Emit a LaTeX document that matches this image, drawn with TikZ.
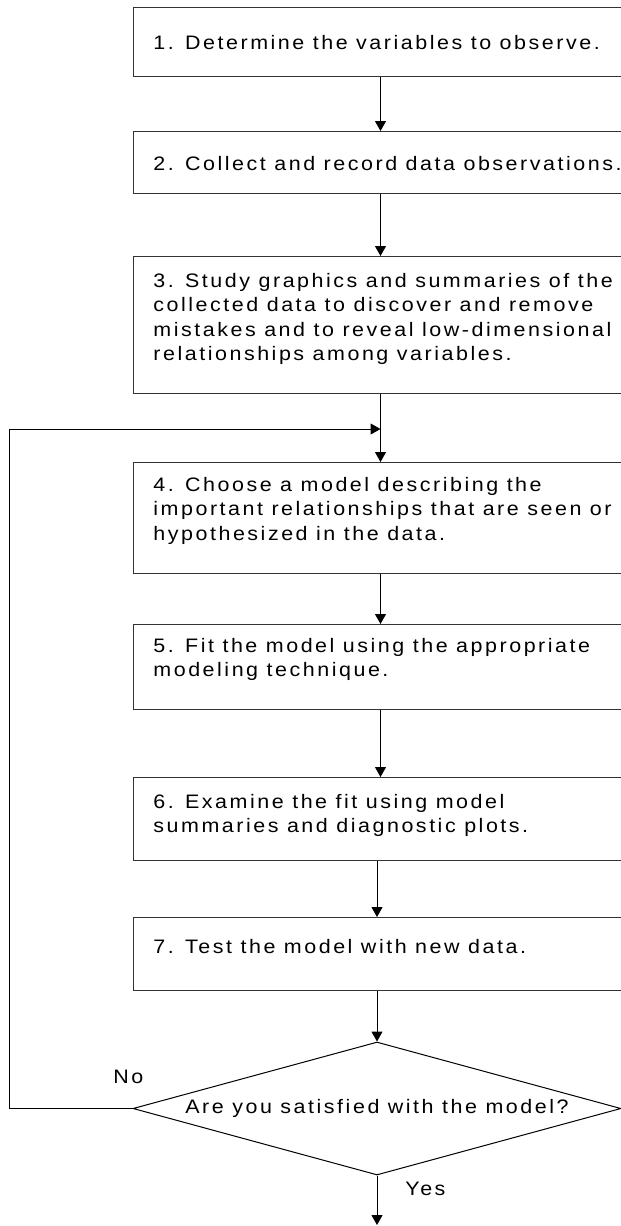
\documentclass[tikz,border=0pt]{standalone}
\usepackage{fontspec}
\setmainfont{Liberation Sans}[LetterSpace=13, FakeStretch=1.1]
\usepackage{tikz}
\usetikzlibrary{calc}
\usetikzlibrary{arrows.meta}
\usetikzlibrary{shapes.geometric}

\begin{document}
\begin{tikzpicture}[x=0.5pt, y=-0.5pt,
    font=\fontsize{9.75}{12.25}\selectfont,
    stepbox/.style={draw=black!80, line width=0.5pt, rectangle, inner sep=0pt, minimum width=247pt, anchor=north west},
    steptext/.style={anchor=base west, align=left, inner sep=0pt},
    arr/.style={-{Triangle[length=5pt,width=5.5pt]}, line width=0.5pt},
    decision/.style={draw, line width=0.5pt, diamond, aspect=3.67, minimum width=244pt, minimum height=66.5pt, inner sep=0pt}]
    \useasboundingbox (0,0) rectangle (621,1226);
    \clip (0,0) rectangle (621,1226);
    % the seven steps (text anchored at the base of its last line)
    \node[stepbox, minimum height=34.5pt] (b1) at (133,7) {};
    \node[steptext] (t1) at (153,49) {1. Determine the variables to observe.};
    \node[stepbox, minimum height=31pt] (b2) at (133,131) {};
    \node[steptext] (t2) at (153,170) {2. Collect and record data observations.};
    \node[stepbox, minimum height=68.5pt] (b3) at (133,256) {};
    \node[steptext] (t3) at (153,360.5) {3. Study graphics and summaries of the\\collected data to discover and remove\\mistakes and to reveal low-dimensional\\relationships among variables.};
    \node[stepbox, minimum height=55.5pt] (b4) at (133,462) {};
    \node[steptext] (t4) at (153,540) {4. Choose a model describing the\\important relationships that are seen or\\hypothesized in the data.};
    \node[stepbox, minimum height=42.5pt] (b5) at (133,624) {};
    \node[steptext] (t5) at (153,676.5) {5. Fit the model using the appropriate\\modeling technique.};
    \node[stepbox, minimum height=41.5pt] (b6) at (133,777) {};
    \node[steptext] (t6) at (153,832.5) {6. Examine the fit using model\\summaries and diagnostic plots.};
    \node[stepbox, minimum height=36.5pt] (b7) at (133,917) {};
    \node[steptext] (t7) at (153,953) {7. Test the model with new data.};
    % decision
    \node[decision] (d) at (377,1108.5) {Are you satisfied with the model?};
    \node[anchor=base west, inner sep=0pt] (no) at (113,1083) {No};
    \node[anchor=base west, inner sep=0pt] (yes) at (405,1195) {Yes};
    \coordinate (back) at (9,429);
    \coordinate (join) at (b3.south |- back);
    \coordinate (stop) at (377,1225);
    % connectors
    \draw[arr] (b1) -- (b2);
    \draw[arr] (b2) -- (b3);
    \draw[arr] (b3) -- (b4);
    \draw[arr] (b4) -- (b5);
    \draw[arr] (b5) -- (b6);
    \draw[arr] (b6.south -| d.north) -- (b7.north -| d.north);
    \draw[arr] (b7.south -| d.north) -- (d.north);
    \draw[arr] (d.south) -- (stop);
    \draw[arr] (d.west) -| (back) -- (join);
\end{tikzpicture}
\end{document}
